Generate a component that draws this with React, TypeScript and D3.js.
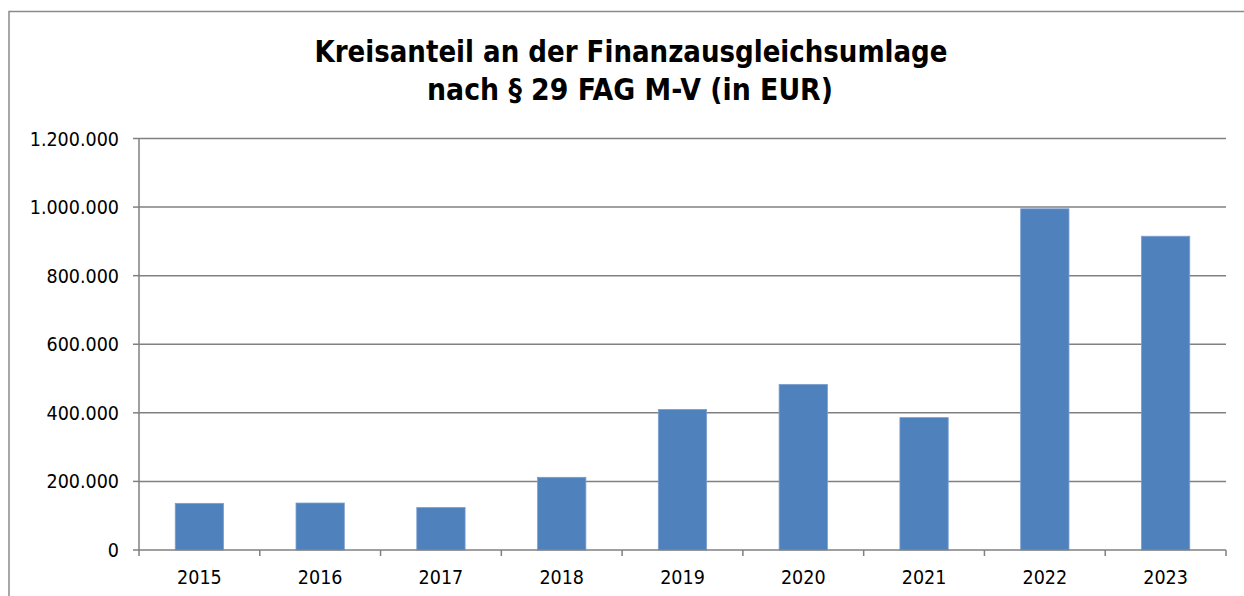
import React from "react";
import * as d3 from "d3";

const years = ["2015", "2016", "2017", "2018", "2019", "2020", "2021", "2022", "2023"];
const values = [136000, 137000, 124000, 212000, 410000, 483000, 386000, 995000, 915000];
const yTicks = [0, 200000, 400000, 600000, 800000, 1000000, 1200000];
const titleLines = ["Kreisanteil an der Finanzausgleichsumlage", "nach § 29 FAG M-V (in EUR)"];

const W = 1244;
const H = 596;
const FONT = "'DejaVu Sans Condensed', 'DejaVu Sans', sans-serif";

export default function App() {
  const left = 139;
  const right = 1226;
  const top = 138.5;
  const bottom = 550;
  const x = d3.scaleBand<string>().domain(years).range([left, right]).paddingInner(0.6).paddingOuter(0.3);
  const xb = d3.scaleBand<string>().domain(years).range([left, right]);
  const y = d3.scaleLinear().domain([0, 1200000]).range([bottom, top]);
  const fmt = (v: number) => d3.format(",")(v).replace(/,/g, ".");
  const grey = "#808080";
  return (
    <svg width={W} height={H} style={{ position: "absolute", left: 0, top: 0, background: "#fff" }} fontFamily={FONT}>
      <rect x={9} y={11.5} width={1300} height={700} fill="#fff" stroke="#8a8a8a" strokeWidth={1.5} />
      <text x={631} y={62} textAnchor="middle" fontSize={30} fontWeight="bold" fill="#000" textLength={633} lengthAdjust="spacingAndGlyphs">{titleLines[0]}</text>
      <text x={630} y={100} textAnchor="middle" fontSize={30} fontWeight="bold" fill="#000" textLength={406} lengthAdjust="spacingAndGlyphs">{titleLines[1]}</text>
      {yTicks.map((t) => (
        <g key={t}>
          {t > 0 && <line x1={left} x2={right} y1={y(t)} y2={y(t)} stroke={grey} strokeWidth={1.5} />}
          <line x1={133} x2={left} y1={y(t)} y2={y(t)} stroke={grey} strokeWidth={1.5} />
          <text x={119} y={y(t) + 7} textAnchor="end" fontSize={19.5} fill="#000">{fmt(t)}</text>
        </g>
      ))}
      {years.map((yr, i) => (
        <rect key={yr} x={x(yr)} y={y(values[i])} width={x.bandwidth()} height={bottom - y(values[i])} fill="#4F81BD" stroke="#7d9fd0" strokeWidth={0.8} />
      ))}
      <line x1={left} x2={left} y1={top} y2={bottom + 6} stroke={grey} strokeWidth={1.5} />
      <line x1={left} x2={right} y1={bottom} y2={bottom} stroke={grey} strokeWidth={1.5} />
      {years.map((yr) => (
        <line key={"t" + yr} x1={(xb(yr) as number) + xb.bandwidth()} x2={(xb(yr) as number) + xb.bandwidth()} y1={bottom} y2={bottom + 6} stroke={grey} strokeWidth={1.5} />
      ))}
      {years.map((yr) => (
        <text key={"l" + yr} x={(xb(yr) as number) + xb.bandwidth() / 2} y={583.5} textAnchor="middle" fontSize={19.5} fill="#000">{yr}</text>
      ))}
    </svg>
  );
}
